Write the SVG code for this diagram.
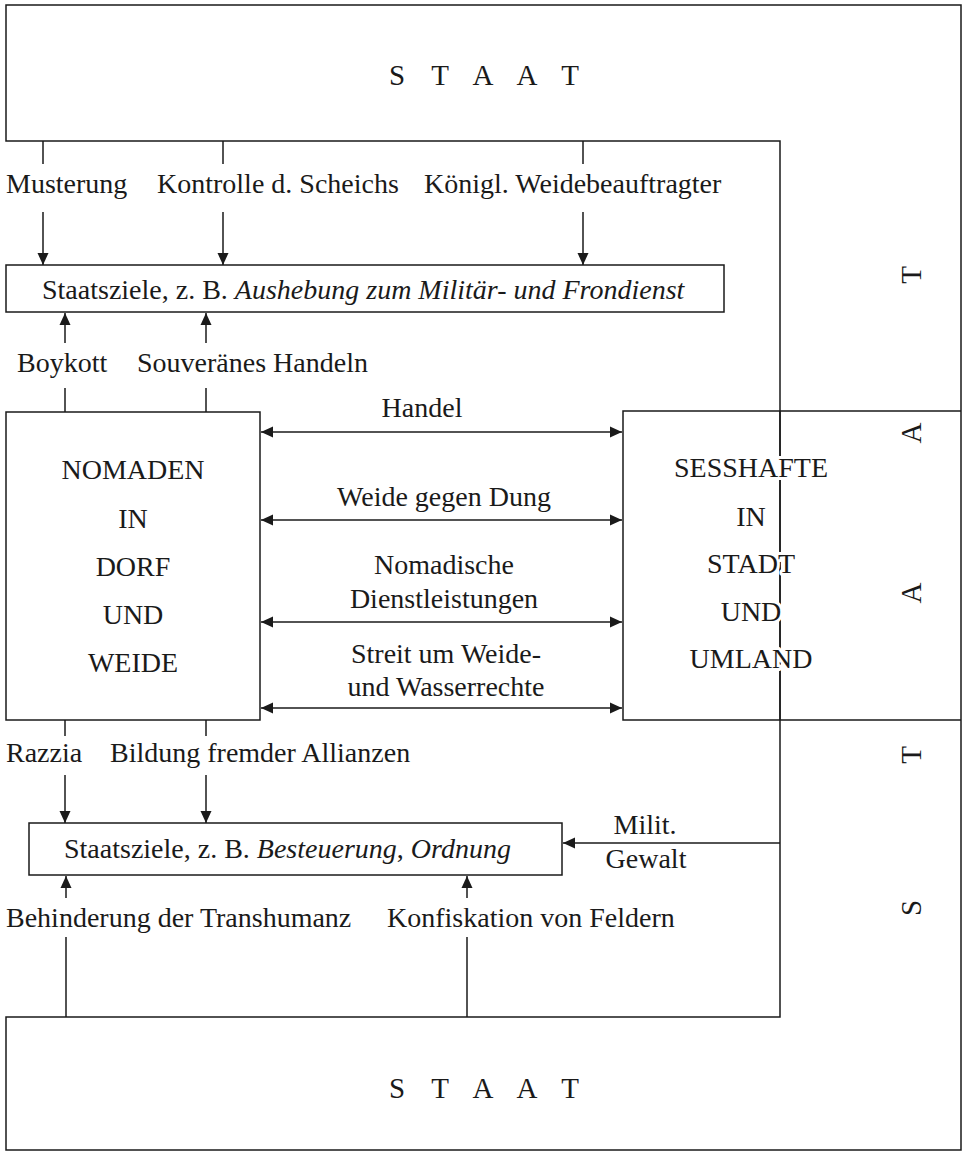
<svg xmlns="http://www.w3.org/2000/svg" width="963" height="1153" viewBox="0 0 963 1153">
<defs>
<marker id="ah" markerUnits="userSpaceOnUse" markerWidth="13" markerHeight="12" refX="12" refY="6" orient="auto-start-reverse">
<path d="M0,0.5 L12,6 L0,11.5 Z" fill="#1a1a1a"/>
</marker>
</defs>
<style>
text{font-family:"Liberation Serif","Times New Roman",serif;font-size:28px;fill:#1a1a1a}
.it{font-style:italic}
.mid{text-anchor:middle}
.big{font-size:29px}
.box{fill:#fff;stroke:#1a1a1a;stroke-width:1.5}
.open{fill:none;stroke:#1a1a1a;stroke-width:1.5}
.ln{fill:none;stroke:#1a1a1a;stroke-width:1.5}
.arr{fill:none;stroke:#1a1a1a;stroke-width:1.5;marker-end:url(#ah)}
.dbl{fill:none;stroke:#1a1a1a;stroke-width:1.5;marker-start:url(#ah);marker-end:url(#ah)}
.halo{stroke:#fff;stroke-width:6px;stroke-linejoin:round;paint-order:stroke}
</style>
<rect width="963" height="1153" fill="#fff"/>

<g id="staat">
<path class="open" d="M6,5 H961 V1150 H6 V1017 H780 V141 H6 Z"/>
<text class="big mid" x="397 440 483 527 570" y="85">STAAT</text>
<text class="big mid" x="397 440 483 527 570" y="1098">STAAT</text>
<text class="big mid" transform="translate(921,591) rotate(-90)" x="-317 -164 -2 158 316" y="0">STAAT</text>
</g>

<g id="staatsziele-oben">
<rect class="box" x="6" y="265" width="718" height="47"/>
<text x="42" y="299">Staatsziele, z. B. <tspan class="it">Aushebung zum Militär- und Frondienst</tspan></text>
</g>

<g id="nomaden">
<rect class="box" x="6" y="412" width="254" height="308"/>
<text class="mid" x="133" y="479">NOMADEN</text>
<text class="mid" x="133" y="528">IN</text>
<text class="mid" x="133" y="576">DORF</text>
<text class="mid" x="133" y="624">UND</text>
<text class="mid" x="133" y="672">WEIDE</text>
</g>

<g id="sesshafte">
<path class="open" d="M961,411 H623 V720 H961"/>
<line class="ln" x1="780" y1="411" x2="780" y2="720"/>
<text class="mid halo" x="751" y="477">SESSHAFTE</text>
<text class="mid halo" x="751" y="526">IN</text>
<text class="mid halo" x="751" y="573">STADT</text>
<text class="mid halo" x="751" y="621">UND</text>
<text class="mid halo" x="751" y="668">UMLAND</text>
</g>

<g id="staatsziele-unten">
<rect class="box" x="29" y="823" width="533" height="52"/>
<text x="64" y="858">Staatsziele, z. B. <tspan class="it">Besteuerung</tspan>, <tspan class="it">Ordnung</tspan></text>
</g>

<g id="connectors">
<line class="ln" x1="43" y1="141" x2="43" y2="164"/>
<line class="ln" x1="223" y1="141" x2="223" y2="164"/>
<line class="ln" x1="583" y1="141" x2="583" y2="164"/>
<line class="arr" x1="43" y1="212" x2="43" y2="265"/>
<line class="arr" x1="223" y1="212" x2="223" y2="265"/>
<line class="arr" x1="583" y1="212" x2="583" y2="265"/>
<line class="ln" x1="65" y1="388" x2="65" y2="412"/>
<line class="ln" x1="206" y1="388" x2="206" y2="412"/>
<line class="arr" x1="65" y1="343" x2="65" y2="313"/>
<line class="arr" x1="206" y1="343" x2="206" y2="313"/>
<line class="dbl" x1="261" y1="432" x2="622" y2="432"/>
<line class="dbl" x1="261" y1="520" x2="622" y2="520"/>
<line class="dbl" x1="261" y1="622" x2="622" y2="622"/>
<line class="dbl" x1="261" y1="708" x2="622" y2="708"/>
<line class="ln" x1="65" y1="720" x2="65" y2="736"/>
<line class="ln" x1="206" y1="720" x2="206" y2="736"/>
<line class="arr" x1="65" y1="775" x2="65" y2="823"/>
<line class="arr" x1="206" y1="775" x2="206" y2="823"/>
<line class="arr" x1="780" y1="843" x2="563" y2="843"/>
<line class="ln" x1="66" y1="937" x2="66" y2="1017"/>
<line class="ln" x1="467" y1="937" x2="467" y2="1017"/>
<line class="arr" x1="66" y1="898" x2="66" y2="876"/>
<line class="arr" x1="467" y1="898" x2="467" y2="876"/>
</g>

<g id="labels">
<text x="6" y="193">Musterung</text>
<text x="157" y="193">Kontrolle d. Scheichs</text>
<text x="424" y="193">Königl. Weidebeauftragter</text>
<text x="17" y="372">Boykott</text>
<text x="137" y="372">Souveränes Handeln</text>
<text class="mid" x="422" y="417">Handel</text>
<text class="mid" x="444" y="506">Weide gegen Dung</text>
<text class="mid" x="444" y="574">Nomadische</text>
<text class="mid" x="444" y="608">Dienstleistungen</text>
<text class="mid" x="446" y="663">Streit um Weide-</text>
<text class="mid" x="446" y="696">und Wasserrechte</text>
<text x="6" y="762">Razzia</text>
<text x="110" y="762">Bildung fremder Allianzen</text>
<text class="mid" x="645" y="834">Milit.</text>
<text class="mid" x="646" y="868">Gewalt</text>
<text x="6" y="927">Behinderung der Transhumanz</text>
<text x="387" y="927">Konfiskation von Feldern</text>
</g>
</svg>
